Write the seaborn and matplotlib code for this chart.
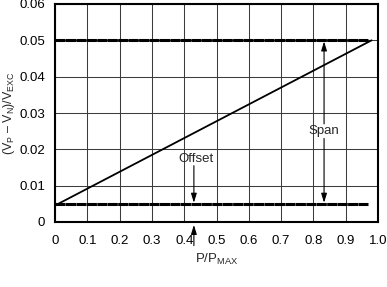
import matplotlib
matplotlib.use("Agg")
import matplotlib.pyplot as plt
import seaborn as sns
import pandas as pd
import numpy as np

sns.set_style("white")
plt.rcParams['font.family'] = ['Liberation Sans', 'DejaVu Sans']
plt.rcParams['mathtext.fontset'] = 'custom'
plt.rcParams['mathtext.rm'] = 'Liberation Sans'
plt.rcParams['mathtext.it'] = 'Liberation Sans'

# Data
diag_x = [0.01, 0.98]
diag_y = [0.005, 0.05]
offset_x = [0.0, 0.97]
offset_y = [0.005, 0.005]
span_x = [0.0, 0.97]
span_y = [0.05, 0.05]
x_ticks = [0, 0.1, 0.2, 0.3, 0.4, 0.5, 0.6, 0.7, 0.8, 0.9, 1.0]
x_tick_labels = ["0", "0.1", "0.2", "0.3", "0.4", "0.5", "0.6", "0.7", "0.8", "0.9", "1.0"]
y_ticks = [0, 0.01, 0.02, 0.03, 0.04, 0.05, 0.06]
y_tick_labels = ["0", "0.01", "0.02", "0.03", "0.04", "0.05", "0.06"]

FS = 9.5

fig = plt.figure(figsize=(3.87, 2.87), dpi=100)
ax = fig.add_axes([55/387, 1 - 222/287, (378-55)/387, (222-4)/287])

ax.set_xlim(0, 1.0)
ax.set_ylim(0, 0.06)
ax.set_xticks(x_ticks)
ax.set_xticklabels(x_tick_labels)
ax.set_yticks(y_ticks)
ax.set_yticklabels(y_tick_labels)
ax.grid(True, color='#3c3c3c', linewidth=0.75)
ax.set_axisbelow(True)
for s in ax.spines.values():
    s.set_color('black')
    s.set_linewidth(1.5)
ax.tick_params(axis='both', length=0, labelsize=FS, colors='black')
ax.tick_params(axis='x', pad=9)
ax.tick_params(axis='y', pad=7)

df_diag = pd.DataFrame({'x': diag_x, 'y': diag_y})
df_off = pd.DataFrame({'x': offset_x, 'y': offset_y})
df_span = pd.DataFrame({'x': span_x, 'y': span_y})

sns.lineplot(data=df_diag, x='x', y='y', ax=ax, color='black', linewidth=1.3)
for d in (df_off, df_span):
    sns.lineplot(data=d, x='x', y='y', ax=ax, color='black', linewidth=2.2,
                 dashes=False)
    ax.lines[-1].set_linestyle((0, (3.3, 0.12)))

ax.set_xlabel(r'P/P$_{\mathregular{MAX}}$', fontsize=FS, labelpad=4)
ax.set_ylabel(r'(V$_{\mathregular{P}}$ – V$_{\mathregular{N}}$)/V$_{\mathregular{EXC}}$', fontsize=9, labelpad=2)

ap = dict(arrowstyle='-|>,head_length=0.55,head_width=0.17', color='black', lw=0.8,
          shrinkA=0, shrinkB=0)
# Offset
ax.text(0.437, 0.0174, 'Offset', ha='center', va='center', fontsize=FS)
ax.annotate('', xy=(0.43, 0.0053), xytext=(0.43, 0.0155), arrowprops=ap)
ax.annotate('', xy=(0.43, -0.0008), xytext=(0.43, -0.0065), arrowprops=ap,
            annotation_clip=False)
# Span
ax.text(0.833, 0.0250, 'Span', ha='center', va='center', fontsize=FS)
ax.annotate('', xy=(0.833, 0.0497), xytext=(0.833, 0.0270), arrowprops=ap)
ax.annotate('', xy=(0.833, 0.0053), xytext=(0.833, 0.0230), arrowprops=ap)

fig.savefig('out.png', dpi=100)
